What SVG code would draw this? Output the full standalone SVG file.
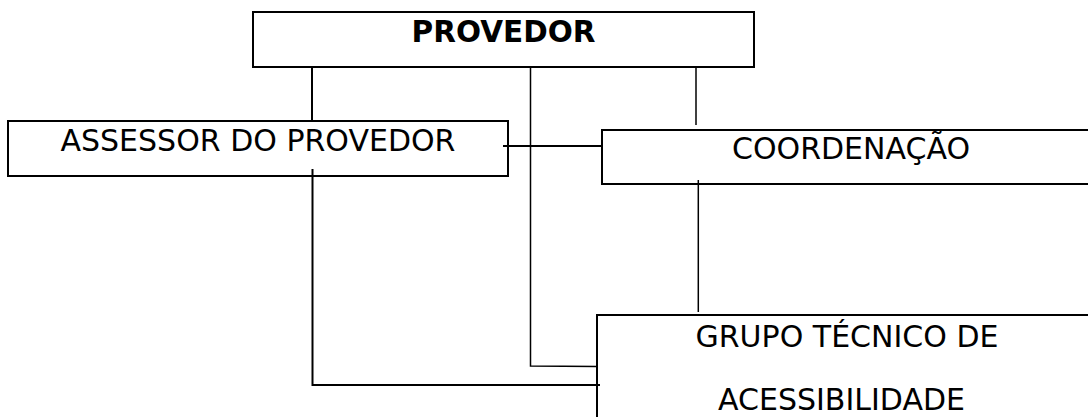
<svg xmlns="http://www.w3.org/2000/svg" width="1088" height="417" viewBox="0 0 1088 417">
<style>
.box{fill:none;stroke:#000;stroke-width:2}
.t{font-family:"DejaVu Sans",Verdana,sans-serif;font-size:30px;fill:#000;text-anchor:middle}
.b{font-weight:bold;font-size:29.5px}
.c{stroke:#000;stroke-width:2;fill:none}
.thin{stroke-width:1.5}
</style>
<rect x="0" y="0" width="1088" height="417" fill="#fff"/>
<g id="connectors">
<line class="c" x1="312" y1="67" x2="312" y2="121"/>
<polyline class="c thin" points="530.5,66 530.5,366 597,366.5"/>
<line class="c thin" x1="696" y1="66" x2="696" y2="125"/>
<line class="c" x1="503" y1="146" x2="602" y2="146"/>
<polyline class="c" points="312.5,169 312.5,385 600,385"/>
<line class="c thin" x1="698.3" y1="180" x2="698.3" y2="312"/>
</g>
<g id="provedor">
<rect class="box" x="253" y="12" width="501" height="55"/>
<text class="t b" x="503.5" y="42">PROVEDOR</text>
</g>
<g id="assessor">
<rect class="box" x="8" y="121" width="500" height="55"/>
<text class="t" x="258" y="151">ASSESSOR DO PROVEDOR</text>
</g>
<g id="coordenacao">
<rect class="box" x="602" y="130" width="500" height="54"/>
<text class="t" x="851" y="159">COORDENAÇÃO</text>
</g>
<g id="grupo">
<rect class="box" x="597" y="315" width="500" height="120"/>
<text class="t" x="847" y="347">GRUPO TÉCNICO DE</text>
<text class="t" x="841.5" y="410">ACESSIBILIDADE</text>
</g>
</svg>
